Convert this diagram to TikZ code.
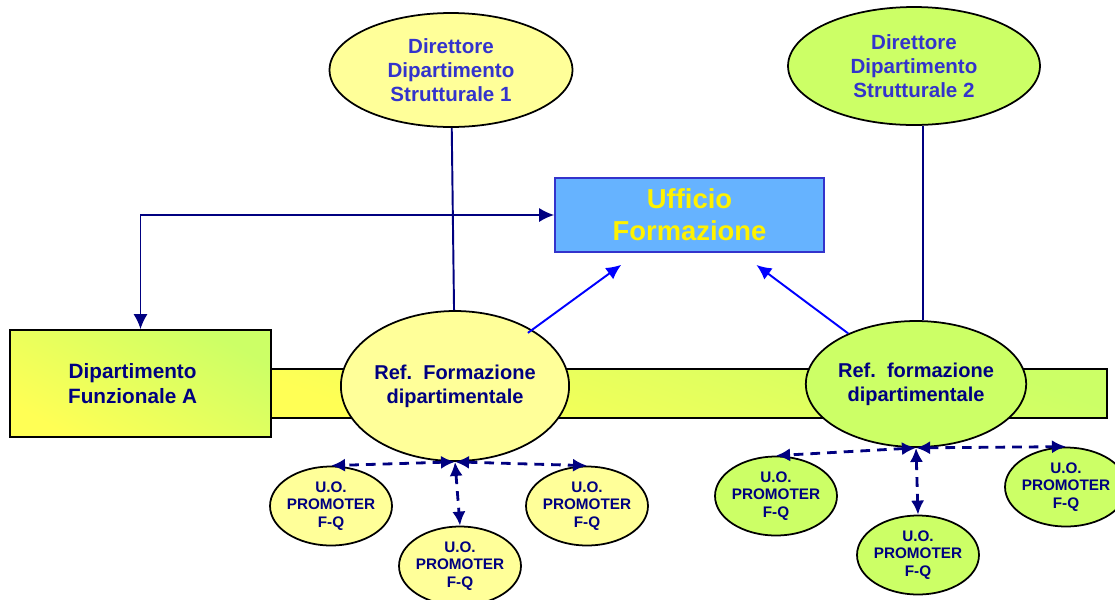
\documentclass[tikz,border=0pt]{standalone}
\usepackage{fontspec}
\setmainfont{Liberation Sans}
\usetikzlibrary{shapes.geometric,arrows.meta}
\definecolor{navy}{HTML}{000080}
\definecolor{dirblue}{HTML}{3333CC}
\definecolor{ylwfill}{HTML}{FFFF99}
\definecolor{grnfill}{HTML}{CCFF66}
\definecolor{barylw}{HTML}{FFFF55}
\definecolor{ufblue}{HTML}{66B3FF}
\begin{document}
\begin{tikzpicture}[x=0.02cm,y=-0.02cm,
    txt/.style={font=\bfseries\fontsize{11.4}{13.8}\selectfont, text=navy, align=center, inner sep=0pt},
    dir/.style={txt, ellipse, draw=black, line width=1pt, text=dirblue, font=\bfseries\fontsize{11.7}{13.5}\selectfont},
    ref/.style={txt, ellipse, draw=black, line width=1pt},
    uo/.style={txt, ellipse, draw=black, line width=1pt, inner xsep=-4pt, minimum width=2.44cm, minimum height=1.58cm, font=\bfseries\fontsize{8.7}{10}\selectfont},
    link/.style={navy, line width=1.1pt, >={Latex[length=8.5pt,width=8pt]}},
    dlink/.style={navy, line width=1.6pt, dash pattern=on 5.5pt off 4pt, >={Latex[length=8pt,width=7.5pt]}, <->},
    blink/.style={blue, line width=1.1pt, -{Latex[length=8.5pt,width=8pt]}, shorten >=11.5pt}]
   \useasboundingbox (0,0) rectangle (1115,599);
   \draw[line width=1pt, top color=grnfill, bottom color=barylw, shading angle=-20] (271,369) rectangle (1107,418);
   \node[txt, draw=black, line width=1pt, minimum width=5.22cm, minimum height=2.14cm, top color=grnfill, bottom color=barylw, shading angle=-30, font=\bfseries\fontsize{11.8}{13.8}\selectfont] (dipA) at (140.5,383.5) {Dipartimento\hspace*{9pt}\\Funzionale A\hspace*{9pt}};
   \node[txt, draw=dirblue, line width=1pt, fill=ufblue, text=yellow, minimum width=5.38cm, minimum height=1.48cm, font=\bfseries\fontsize{15.6}{18}\selectfont] (uff) at (689.5,215) {Ufficio\\Formazione};

   \node[dir, fill=ylwfill, minimum width=4.86cm, minimum height=2.28cm] (dir1) at (451,70) {Direttore\\Dipartimento\\Strutturale 1};
   \node[dir, fill=grnfill, minimum width=5.04cm, minimum height=2.36cm] (dir2) at (914,66) {Direttore\\Dipartimento\\Strutturale 2};

   \node[ref, fill=ylwfill, minimum width=4.52cm, minimum height=3.0cm] (ref1) at (455,386) {Ref.\ \ Formazione\\dipartimentale};
   \node[ref, fill=grnfill, minimum width=4.38cm, minimum height=2.52cm] (ref2) at (916,384) {Ref.\ \ formazione\\dipartimentale};

   \foreach \n/\x/\y/\c in {uo1/331/506/ylwfill, uo2/460/566/ylwfill, uo3/587/506/ylwfill, uo4/776/496/grnfill, uo5/918/555/grnfill, uo6/1066/487/grnfill}
   {
       \node[uo, fill=\c] (\n) at (\x,\y) {U.O.\\PROMOTER\\F-Q};
   }

   \draw[link, <->] (dipA.north) |- (uff.west);
   \draw[link] (dir1) -- (ref1);
   \draw[link] ([xshift=0.18cm]dir2.south) -- ([xshift=0.18cm]dir2.south |- ref2.north);
   \draw[blink, shorten <=-3pt] (ref1) -- (uff);
   \draw[blink] (ref2) -- (uff);

   \foreach \a/\b in {ref1/uo1, ref1/uo2, ref1/uo3, ref2/uo4, ref2/uo5, ref2/uo6}
   {
       \draw[dlink] (\a.south) -- (\b.north);
   }
\end{tikzpicture}
\end{document}
